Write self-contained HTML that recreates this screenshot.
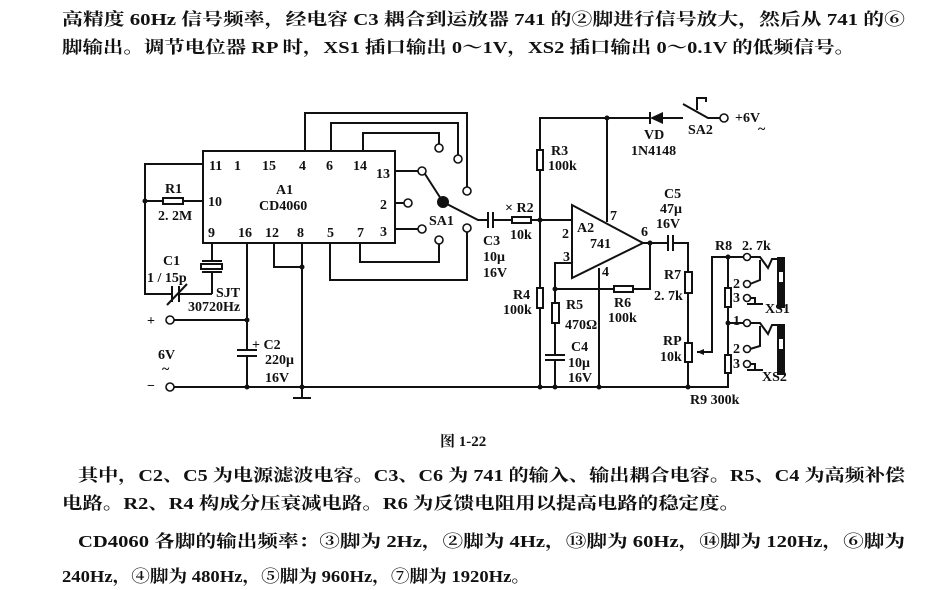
<!DOCTYPE html>
<html><head><meta charset="utf-8"><style>
html,body{margin:0;padding:0;background:#fff;width:928px;height:590px;overflow:hidden}
svg{display:block}
.t{font-family:"Liberation Serif","Noto Serif CJK SC",serif;font-size:17px;font-weight:bold;fill:#111}
.l{font-family:"Liberation Serif","Noto Serif CJK SC",serif;font-size:14px;font-weight:bold;fill:#111}
</style></head><body>
<svg width="928" height="590" viewBox="0 0 928 590" xmlns="http://www.w3.org/2000/svg">
<text class="t" x="62" y="25" textLength="843" lengthAdjust="spacingAndGlyphs">高精度 60Hz 信号频率，经电容 C3 耦合到运放器 741 的②脚进行信号放大，然后从 741 的⑥</text>
<text class="t" x="62" y="53" textLength="793" lengthAdjust="spacingAndGlyphs">脚输出。调节电位器 RP 时，XS1 插口输出 0～1V，XS2 插口输出 0～0.1V 的低频信号。</text>

<g stroke="#111" stroke-width="2" fill="none">
<rect x="203" y="151" width="192" height="92"/>
<polyline points="305,151 305,113 467,113 467,187"/>
<polyline points="331,151 331,123 458,123 458,155"/>
<polyline points="363,151 363,133 439,133 439,144"/>
<polyline points="395,171 418,171"/>
<polyline points="395,203 404,203"/>
<polyline points="395,229 418,229"/>
<polyline points="360,243 360,262 439,262 439,244"/>
<polyline points="330,243 330,280 467,280 467,232"/>
<line x1="443" y1="202" x2="425" y2="174"/>
<polyline points="443,202 478,220 488,220"/>
<polyline points="203,164 145,164 145,294 172,294"/>
<line x1="145" y1="201" x2="163" y2="201"/>
<rect x="163" y="198" width="20" height="6"/>
<line x1="183" y1="201" x2="203" y2="201"/>
<line x1="179" y1="294" x2="212" y2="294"/>
<line x1="172" y1="286" x2="172" y2="302"/>
<line x1="179" y1="286" x2="179" y2="302"/>
<line x1="167" y1="305" x2="187" y2="284"/>
<polyline points="212,243 212,261"/>
<line x1="202" y1="261" x2="222" y2="261"/>
<rect x="201" y="264" width="21" height="5"/>
<line x1="202" y1="272" x2="222" y2="272"/>
<polyline points="212,272 212,294"/>
<polyline points="247,243 247,350"/>
<line x1="237" y1="350" x2="257" y2="350"/>
<line x1="237" y1="356" x2="257" y2="356"/>
<polyline points="247,356 247,387"/>
<line x1="173" y1="320" x2="247" y2="320"/>
<polyline points="274,243 274,267 302,267"/>
<polyline points="302,243 302,398"/>
<line x1="293" y1="398" x2="311" y2="398"/>
<line x1="173" y1="387" x2="690" y2="387"/>
<line x1="488" y1="212" x2="488" y2="228"/>
<line x1="493" y1="212" x2="493" y2="228"/>
<line x1="493" y1="220" x2="512" y2="220"/>
<rect x="512" y="217" width="19" height="6"/>
<line x1="531" y1="220" x2="572" y2="220"/>
<polyline points="540,387 540,308"/>
<rect x="537" y="288" width="6" height="20"/>
<polyline points="540,288 540,170"/>
<rect x="537" y="150" width="6" height="20"/>
<polyline points="540,150 540,118 650,118"/>
<line x1="650" y1="112" x2="650" y2="124"/>
<line x1="663" y1="118" x2="683" y2="118"/>
<polyline points="683,104 708,118 720,118"/>
<polyline points="697,110 697,98 706,98 706,102"/>
<polygon points="572,205 572,278 643,243"/>
<line x1="607" y1="118" x2="607" y2="222"/>
<polyline points="572,263 555,263 555,289 614,289"/>
<rect x="614" y="286" width="19" height="6"/>
<polyline points="633,289 650,289 650,243 643,243"/>
<polyline points="555,289 555,303"/>
<rect x="552" y="303" width="7" height="20"/>
<polyline points="555,323 555,355"/>
<line x1="545" y1="355" x2="565" y2="355"/>
<line x1="545" y1="360" x2="565" y2="360"/>
<polyline points="555,360 555,387"/>
<line x1="599" y1="268" x2="599" y2="387"/>
<line x1="650" y1="243" x2="668" y2="243"/>
<line x1="668" y1="235" x2="668" y2="251"/>
<line x1="673" y1="235" x2="673" y2="251"/>
<polyline points="673,243 688,243 688,272"/>
<rect x="685" y="272" width="7" height="21"/>
<polyline points="688,293 688,343"/>
<rect x="685" y="343" width="7" height="19"/>
<polyline points="688,362 688,387 728,387 728,373"/>
<polyline points="697,352 712,352 712,257 744,257"/>
<polyline points="728,257 728,288"/>
<rect x="725" y="288" width="6" height="19"/>
<polyline points="728,307 728,355"/>
<rect x="725" y="355" width="6" height="18"/>
<line x1="728" y1="323" x2="744" y2="323"/>
<polyline points="750,257 760,257 768,268 772,259 777,259"/>
<polyline points="760,260 760,280 750,284"/>
<polyline points="750,298 755,298 755,304 747,304 763,304"/>
<polyline points="750,323 760,323 768,334 772,325 777,325"/>
<polyline points="760,326 760,346 750,349"/>
<polyline points="750,364 755,364 755,370 747,370 763,370"/>
</g>
<rect x="777" y="257" width="8" height="51" fill="#111"/>
<rect x="777" y="324" width="8" height="51" fill="#111"/>
<rect x="779" y="272" width="4" height="10" fill="#fff"/>
<rect x="779" y="339" width="4" height="10" fill="#fff"/>
<polygon points="650,118 663,112 663,124" fill="#111"/>
<polygon points="697,352 704,349 704,355" fill="#111"/>
<g fill="#fff" stroke="#111" stroke-width="1.6">
<circle cx="422" cy="171" r="4"/><circle cx="408" cy="203" r="4"/><circle cx="422" cy="229" r="4"/>
<circle cx="439" cy="148" r="4"/><circle cx="458" cy="159" r="4"/><circle cx="467" cy="191" r="4"/>
<circle cx="467" cy="228" r="4"/><circle cx="439" cy="240" r="4"/>
<circle cx="170" cy="320" r="4"/><circle cx="170" cy="387" r="4"/><circle cx="724" cy="118" r="4"/>
<circle cx="747" cy="257" r="3.5"/><circle cx="747" cy="284" r="3.5"/><circle cx="747" cy="298" r="3.5"/>
<circle cx="747" cy="323" r="3.5"/><circle cx="747" cy="349" r="3.5"/><circle cx="747" cy="364" r="3.5"/>
</g>
<g fill="#111">
<circle cx="443" cy="202" r="6"/>
<circle cx="145" cy="201" r="2.5"/><circle cx="302" cy="267" r="2.5"/><circle cx="247" cy="320" r="2.5"/>
<circle cx="247" cy="387" r="2.5"/><circle cx="302" cy="387" r="2.5"/><circle cx="540" cy="220" r="2.5"/>
<circle cx="607" cy="118" r="2.5"/><circle cx="650" cy="243" r="2.5"/><circle cx="555" cy="289" r="2.5"/>
<circle cx="540" cy="387" r="2.5"/><circle cx="555" cy="387" r="2.5"/><circle cx="599" cy="387" r="2.5"/>
<circle cx="688" cy="387" r="2.5"/><circle cx="728" cy="257" r="2.5"/><circle cx="728" cy="323" r="2.5"/>
</g>
<g class="l">
<text x="209" y="170">11</text><text x="234" y="170">1</text><text x="262" y="170">15</text><text x="299" y="170">4</text>
<text x="326" y="170">6</text><text x="353" y="170">14</text><text x="376" y="178">13</text>
<text x="380" y="209">2</text><text x="380" y="236">3</text><text x="208" y="206">10</text>
<text x="208" y="237">9</text><text x="238" y="237">16</text><text x="265" y="237">12</text><text x="297" y="237">8</text>
<text x="327" y="237">5</text><text x="357" y="237">7</text>
<text x="276" y="194">A1</text><text x="259" y="210">CD4060</text>
<text x="165" y="193">R1</text><text x="158" y="220">2. 2M</text>
<text x="163" y="265">C1</text><text x="147" y="282">1 / 15p</text>
<text x="216" y="297">SJT</text><text x="188" y="311">30720Hz</text>
<text x="147" y="325">+</text><text x="158" y="359">6V</text><text x="162" y="373">~</text><text x="147" y="390">−</text>
<text x="252" y="349">+ C2</text><text x="265" y="364">220μ</text><text x="265" y="382">16V</text>
<text x="429" y="225">SA1</text>
<text x="483" y="245">C3</text><text x="483" y="261">10μ</text><text x="483" y="277">16V</text>
<text x="505" y="212">× R2</text><text x="510" y="239">10k</text>
<text x="551" y="155">R3</text><text x="548" y="170">100k</text>
<text x="513" y="299">R4</text><text x="503" y="314">100k</text>
<text x="566" y="309">R5</text><text x="565" y="329">470Ω</text>
<text x="571" y="351">C4</text><text x="568" y="367">10μ</text><text x="568" y="382">16V</text>
<text x="614" y="307">R6</text><text x="608" y="322">100k</text>
<text x="577" y="232">A2</text><text x="590" y="248">741</text>
<text x="562" y="238">2</text><text x="563" y="261">3</text><text x="610" y="220">7</text><text x="602" y="276">4</text><text x="641" y="236">6</text>
<text x="644" y="139">VD</text><text x="631" y="155">1N4148</text>
<text x="688" y="134">SA2</text><text x="735" y="122">+6V</text><text x="758" y="133">~</text>
<text x="664" y="198">C5</text><text x="660" y="213">47μ</text><text x="656" y="228">16V</text>
<text x="664" y="279">R7</text><text x="654" y="300">2. 7k</text>
<text x="663" y="345">RP</text><text x="660" y="361">10k</text>
<text x="690" y="404">R9 300k</text>
<text x="715" y="250">R8</text><text x="742" y="250">2. 7k</text>
<text x="733" y="288">2</text><text x="733" y="302">3</text><text x="733" y="325">1</text>
<text x="733" y="353">2</text><text x="733" y="368">3</text>
<text x="765" y="313">XS1</text><text x="762" y="381">XS2</text>
</g>
<text class="l" x="440" y="446" style="font-size:15px">图 1-22</text>
<text class="t" x="78" y="481" textLength="827" lengthAdjust="spacingAndGlyphs">其中，C2、C5 为电源滤波电容。C3、C6 为 741 的输入、输出耦合电容。R5、C4 为高频补偿</text>
<text class="t" x="62" y="509" textLength="678" lengthAdjust="spacingAndGlyphs">电路。R2、R4 构成分压衰减电路。R6 为反馈电阻用以提高电路的稳定度。</text>
<text class="t" x="78" y="547" textLength="827" lengthAdjust="spacingAndGlyphs">CD4060 各脚的输出频率：③脚为 2Hz，②脚为 4Hz，⑬脚为 60Hz，⑭脚为 120Hz，⑥脚为</text>
<text class="t" x="62" y="582" textLength="468" lengthAdjust="spacingAndGlyphs">240Hz，④脚为 480Hz，⑤脚为 960Hz，⑦脚为 1920Hz。</text>
</svg>
</body></html>
